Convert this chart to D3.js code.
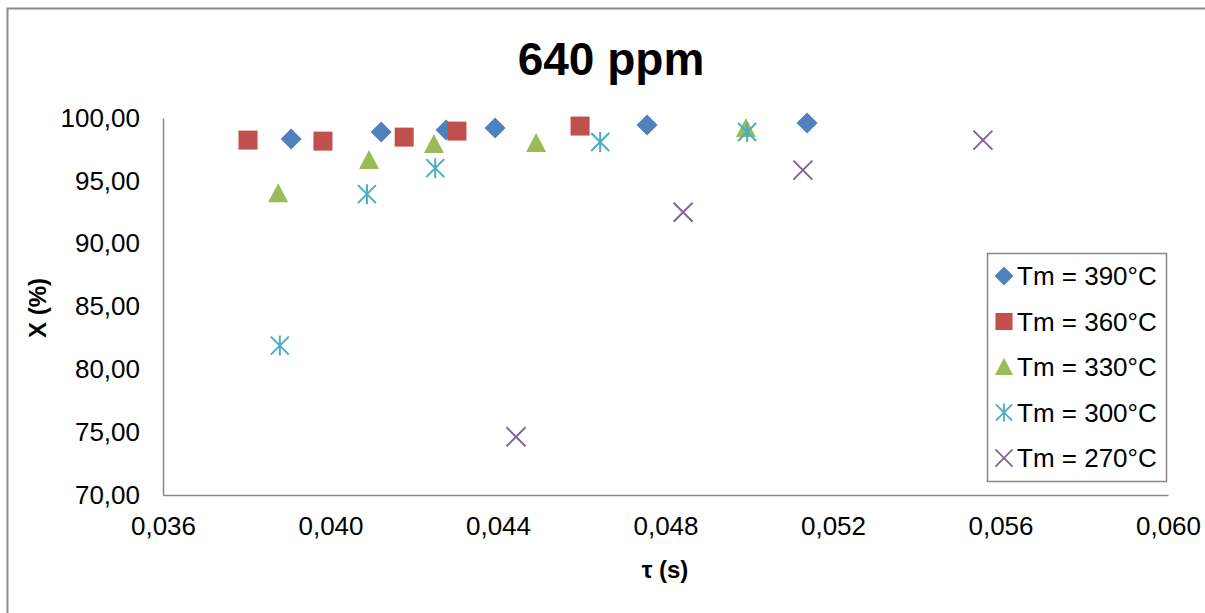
<!DOCTYPE html>
<html>
<head>
<meta charset="utf-8">
<script src="https://cdn.jsdelivr.net/npm/d3@7"></script>
<style>
  body { margin: 0; background: #fff; }
  svg { display: block; font-family: "Liberation Sans", Arial, sans-serif; }
</style>
</head>
<body>
<svg id="chart" width="1205" height="613"></svg>
<script>
// data: residence time tau (s) vs conversion X (%)
var tau390 = [0.03906, 0.04121, 0.04276, 0.04393, 0.04756, 0.05138];
var conv390 = [98.32, 98.88, 99.04, 99.20, 99.44, 99.60];
var tau360 = [0.03803, 0.03982, 0.04176, 0.04302, 0.04596];
var conv360 = [98.24, 98.16, 98.48, 98.96, 99.36];
var tau330 = [0.03875, 0.04092, 0.04247, 0.04491, 0.04992];
var conv330 = [94.02, 96.65, 97.93, 98.01, 99.20];
var tau300 = [0.03879, 0.04087, 0.04250, 0.04644, 0.04995];
var conv300 = [81.89, 93.94, 96.01, 98.09, 98.88];
var tau270 = [0.04443, 0.04842, 0.05128, 0.05558];
var conv270 = [74.63, 92.50, 95.85, 98.24];

var seriesNames = ["Tm = 390°C", "Tm = 360°C", "Tm = 330°C", "Tm = 300°C", "Tm = 270°C"];
var xTicks = [0.036, 0.040, 0.044, 0.048, 0.052, 0.056, 0.060];
var yTicks = [70, 75, 80, 85, 90, 95, 100];

var colors = ["#4F81BD", "#C0504D", "#9BBB59", "#4BACC6", "#8064A2"];
var shapes = ["diamond", "square", "triangle", "star", "cross"];

var series = [
  {name: seriesNames[0], xs: tau390, ys: conv390},
  {name: seriesNames[1], xs: tau360, ys: conv360},
  {name: seriesNames[2], xs: tau330, ys: conv330},
  {name: seriesNames[3], xs: tau300, ys: conv300},
  {name: seriesNames[4], xs: tau270, ys: conv270}
];

var svg = d3.select("#chart");
//plot area edges (note: "top" is taken by window.top, so use plotTop)
var plotLeft = 163, plotRight = 1168, plotTop = 118, plotBottom = 495;

var x = d3.scaleLinear().domain([0.036, 0.060]).range([plotLeft, plotRight]);
var y = d3.scaleLinear().domain([70, 100]).range([plotBottom, plotTop]);

// outer chart border (runs off the right/bottom edge)
svg.append("rect")
   .attr("x", 7.5).attr("y", 8.5)
   .attr("width", 1300).attr("height", 700)
   .attr("fill", "none").attr("stroke", "#8a8a8a").attr("stroke-width", 2);

// title
svg.append("text")
   .attr("x", 611).attr("y", 75)
   .attr("text-anchor", "middle")
   .attr("font-size", 46).attr("font-weight", "bold")
   .text("640 ppm");

// axes
var fmtX = function(d){ return d3.format(".3f")(d).replace(".", ","); };
var fmtY = function(d){ return d3.format(".2f")(d).replace(".", ","); };

var xAxis = svg.append("g")
   .attr("transform", "translate(0," + plotBottom + ")")
   .call(d3.axisBottom(x).tickValues(xTicks).tickFormat(fmtX).tickSize(0).tickPadding(22));
var yAxis = svg.append("g")
   .attr("transform", "translate(" + plotLeft + ",0)")
   .call(d3.axisLeft(y).tickValues(yTicks).tickFormat(fmtY).tickSize(0).tickPadding(23));

[xAxis, yAxis].forEach(function(a){
  a.select(".domain").attr("stroke", "#878787").attr("stroke-width", 1.5);
  a.selectAll("text").attr("font-size", 26).attr("fill", "#000")
   .attr("font-family", "Liberation Sans, Arial, sans-serif");
});

// axis titles
svg.append("text")
   .attr("x", 665).attr("y", 578)
   .attr("text-anchor", "middle")
   .attr("font-size", 24).attr("font-weight", "bold")
   .text("τ (s)");
svg.append("text")
   .attr("transform", "translate(46,308) rotate(-90)")
   .attr("text-anchor", "middle")
   .attr("font-size", 24).attr("font-weight", "bold")
   .text("X (%)");

// marker drawing
function drawMarker(g, shape, color){
  if (shape == "diamond") {
    g.append("path").attr("d", "M0,-10.5 L10.5,0 L0,10.5 L-10.5,0 Z").attr("fill", color);
  } else if (shape == "square") {
    g.append("rect").attr("x", -9.5).attr("y", -9.5).attr("width", 19).attr("height", 19).attr("fill", color);
  } else if (shape == "triangle") {
    g.append("path").attr("d", "M0,-10 L10,9 L-10,9 Z").attr("fill", color);
  } else if (shape == "star") {
    g.append("path").attr("d", "M-9,-9 L9,9 M-9,9 L9,-9 M0,-10 L0,10")
     .attr("stroke", color).attr("stroke-width", 2).attr("fill", "none");
  } else {
    g.append("path").attr("d", "M-9.5,-9.5 L9.5,9.5 M-9.5,9.5 L9.5,-9.5")
     .attr("stroke", color).attr("stroke-width", 2).attr("fill", "none");
  }
}

var plot = svg.append("g");
series.forEach(function(s, i){
  var pts = s.xs.map(function(v, j){ return [v, s.ys[j]]; });
  plot.selectAll(null).data(pts).enter().append("g")
      .attr("transform", function(d){ return "translate(" + x(d[0]) + "," + y(d[1]) + ")"; })
      .each(function(){ drawMarker(d3.select(this), shapes[i], colors[i]); });
});

// legend
var legend = svg.append("g");
legend.append("rect")
      .attr("x", 987.5).attr("y", 253.5).attr("width", 179).attr("height", 228)
      .attr("fill", "#fff").attr("stroke", "#878787").attr("stroke-width", 1.5);
series.forEach(function(s, i){
  var ly = 276 + i * 45.5;
  var g = legend.append("g").attr("transform", "translate(1004," + ly + ") scale(0.9)");
  drawMarker(g, shapes[i], colors[i]);
  legend.append("text")
        .attr("x", 1017).attr("y", ly + 9)
        .attr("font-size", 26)
        .text(s.name);
});
</script>
</body>
</html>
